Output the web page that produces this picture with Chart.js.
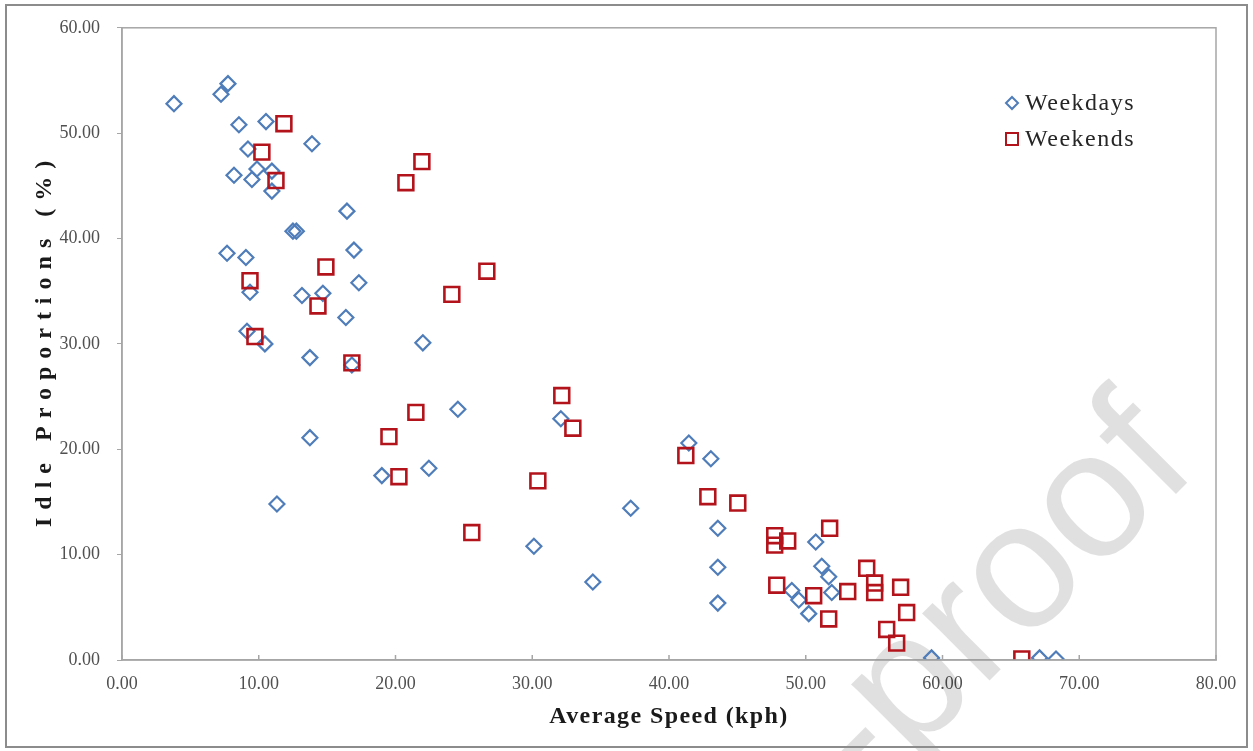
<!DOCTYPE html>
<html>
<head>
<meta charset="utf-8">
<title>Idle proportions vs average speed</title>
<script src="https://cdn.jsdelivr.net/npm/chart.js@4"></script>
<style>
  html, body { margin: 0; padding: 0; background: #fff; }
  #wrap { width: 1253px; height: 751px; position: relative; }
</style>
</head>
<body>
<div id="wrap"><canvas id="chartIdle"></canvas></div>
<script>
// ── data ──

const weekdaySpeed = [3.8, 7.75, 7.24, 8.55, 10.53, 13.89, 9.21, 8.19, 9.87, 9.5, 10.96, 10.96, 16.45, 12.5, 12.75,
  7.68, 9.06, 16.96, 9.36, 17.32, 13.16, 14.69, 16.37, 9.14, 10.45, 22.0, 13.74, 16.81, 24.56, 32.09,
  13.74, 22.44, 19.0, 11.33, 37.2, 30.12, 34.43, 41.45, 43.06, 43.57, 43.57, 43.57, 50.73, 51.17, 51.68,
  51.9, 48.98, 49.49, 50.22, 59.2, 67.1, 68.3];
const weekdayIdle = [52.8, 54.7, 53.7, 50.8, 51.1, 49.0, 48.5, 46.0, 46.6, 45.6, 46.4, 44.5, 42.6, 40.7, 40.7,
  38.6, 38.2, 38.9, 34.9, 35.8, 34.6, 34.8, 32.5, 31.2, 30.0, 30.1, 28.7, 28.0, 23.8, 22.9,
  21.1, 18.2, 17.5, 14.8, 14.4, 10.8, 7.4, 20.6, 19.1, 12.5, 8.8, 5.4, 11.2, 8.9, 7.9,
  6.4, 6.6, 5.7, 4.4, 0.2, 0.2, 0.1];

const weekendSpeed = [11.84, 10.23, 11.26, 21.93, 20.76, 14.91, 26.68, 9.36, 24.12, 14.33, 9.72, 16.81, 32.16,
  21.49, 32.97, 19.52, 20.25, 30.41, 25.58, 41.23, 42.84, 45.03, 47.73, 47.73, 48.68, 51.75,
  47.88, 50.58, 51.68, 53.07, 54.46, 55.04, 55.04, 56.94, 57.38, 55.92, 56.65, 65.8];
const weekendIdle = [50.9, 48.2, 45.5, 47.3, 45.3, 37.3, 36.9, 36.0, 34.7, 33.6, 30.7, 28.2, 25.1,
  23.5, 22.0, 21.2, 17.4, 17.0, 12.1, 19.4, 15.5, 14.9, 11.8, 10.9, 11.3, 12.5,
  7.1, 6.1, 3.9, 6.5, 8.7, 7.3, 6.4, 6.9, 4.5, 2.9, 1.6, 0.1];

const seriesNames = ['Weekdays', 'Weekends'];
const xTitle = 'Average Speed (kph)';
const yTitle = 'Idle Proportions (%)';
const watermark = 'Journal Pre-proof';

const COLORS = {
  blue: '#4F7DBA',
  red: '#B3141C',
  axis: '#A6A6A6',
  tick: '#505050',
  title: '#1a1a1a',
  frame: '#8C8C8C',
};

const SERIF = '"Liberation Serif", "Times New Roman", serif';

function toPoints(xs, ys) {
  return xs.map((x, i) => ({ x, y: ys[i] }));
}

// ── extra drawing: frame, watermark, plot border, inner x ticks, titles, legend ──

const decorPlugin = {
  id: 'decor',
  beforeDatasetsDraw(chart) {
    const ctx = chart.ctx;
    ctx.save();
    ctx.translate(1200, 470);
    ctx.rotate(-45 * Math.PI / 180);
    ctx.font = '180px "Liberation Sans", Arial, sans-serif';
    ctx.fillStyle = 'rgba(0,0,0,0.12)';
    ctx.textAlign = 'right';
    ctx.textBaseline = 'alphabetic';
    ctx.fillText(watermark, 0, 0);
    ctx.restore();
  },
  afterDraw(chart) {
    const ctx = chart.ctx;
    const area = chart.chartArea;
    const xs = chart.scales.x;

    ctx.save();
    // plot border
    ctx.strokeStyle = COLORS.axis;
    ctx.lineWidth = 1.5;
    ctx.strokeRect(area.left, area.top, area.right - area.left, area.bottom - area.top);

    // inner tick marks on the x axis
    ctx.beginPath();
    xs.ticks.forEach(t => {
      const px = xs.getPixelForValue(t.value);
      ctx.moveTo(px, area.bottom);
      ctx.lineTo(px, area.bottom - 5);
    });
    ctx.stroke();

    // outer frame of the figure
    ctx.strokeStyle = COLORS.frame;
    ctx.lineWidth = 2;
    ctx.strokeRect(6, 5, chart.width - 12, chart.height - 9);

    // axis titles
    ctx.fillStyle = COLORS.title;
    ctx.textAlign = 'center';
    ctx.textBaseline = 'middle';
    ctx.font = 'bold 24px ' + SERIF;
    ctx.letterSpacing = '1.4px';
    ctx.fillText(xTitle, (area.left + area.right) / 2, 717);

    ctx.save();
    ctx.translate(45, (area.top + area.bottom) / 2);
    ctx.rotate(-Math.PI / 2);
    ctx.letterSpacing = '8px';
    ctx.fillText(yTitle, 4, 0);
    ctx.restore();

    // legend
    const lx = 1012, ly = [103, 139];
    ctx.font = '24px ' + SERIF;
    ctx.letterSpacing = '1.5px';
    ctx.fillStyle = '#262626';
    ctx.textBaseline = 'middle';
    ctx.textAlign = 'left';

    ctx.strokeStyle = COLORS.blue;
    ctx.lineWidth = 2;
    ctx.beginPath();
    ctx.moveTo(lx, ly[0] - 6);
    ctx.lineTo(lx + 6, ly[0]);
    ctx.lineTo(lx, ly[0] + 6);
    ctx.lineTo(lx - 6, ly[0]);
    ctx.closePath();
    ctx.stroke();
    ctx.fillText(seriesNames[0], lx + 13, ly[0] + 1);

    ctx.strokeStyle = COLORS.red;
    ctx.lineWidth = 2;
    ctx.strokeRect(lx - 6, ly[1] - 6, 12, 12);
    ctx.fillText(seriesNames[1], lx + 13, ly[1] + 1);
    ctx.letterSpacing = '0px';
    ctx.restore();
  },
};

const ctx = document.getElementById('chartIdle');

new Chart(ctx, {
  type: 'scatter',
  data: {
    datasets: [
      {
        label: seriesNames[0],
        data: toPoints(weekdaySpeed, weekdayIdle),
        pointStyle: 'rectRot',
        pointRadius: 7.5,
        pointBorderWidth: 2.2,
        borderColor: COLORS.blue,
        backgroundColor: 'rgba(255,255,255,0)',
        order: 1,
      },
      {
        label: seriesNames[1],
        data: toPoints(weekendSpeed, weekendIdle),
        pointStyle: 'rect',
        pointRadius: 10.5,
        pointBorderWidth: 2.6,
        borderColor: COLORS.red,
        backgroundColor: 'rgba(255,255,255,0)',
        order: 0,
      },
    ],
  },
  options: {
    responsive: true,
    maintainAspectRatio: false,
    animation: false,
    layout: { padding: { top: 27, right: 37, left: 0, bottom: 0 } },
    plugins: {
      legend: { display: false },
      tooltip: { enabled: false },
    },
    scales: {
      x: {
        type: 'linear',
        min: 0,
        max: 80,
        afterFit: s => { s.height = 91; },
        ticks: {
          stepSize: 10,
          padding: 13,
          color: COLORS.tick,
          font: { family: SERIF, size: 18 },
          callback: v => v.toFixed(2),
        },
        grid: { drawOnChartArea: false, drawTicks: false },
        border: { color: COLORS.axis, width: 1.5 },
      },
      y: {
        type: 'linear',
        min: 0,
        max: 60,
        afterFit: s => { s.width = 122; },
        ticks: {
          stepSize: 10,
          padding: 17,
          color: COLORS.tick,
          font: { family: SERIF, size: 18 },
          callback: v => v.toFixed(2),
        },
        grid: { drawOnChartArea: false, drawTicks: true, tickLength: 5, color: COLORS.axis },
        border: { color: COLORS.axis, width: 1.5 },
      },
    },
  },
  plugins: [decorPlugin],
});
</script>
</body>
</html>
